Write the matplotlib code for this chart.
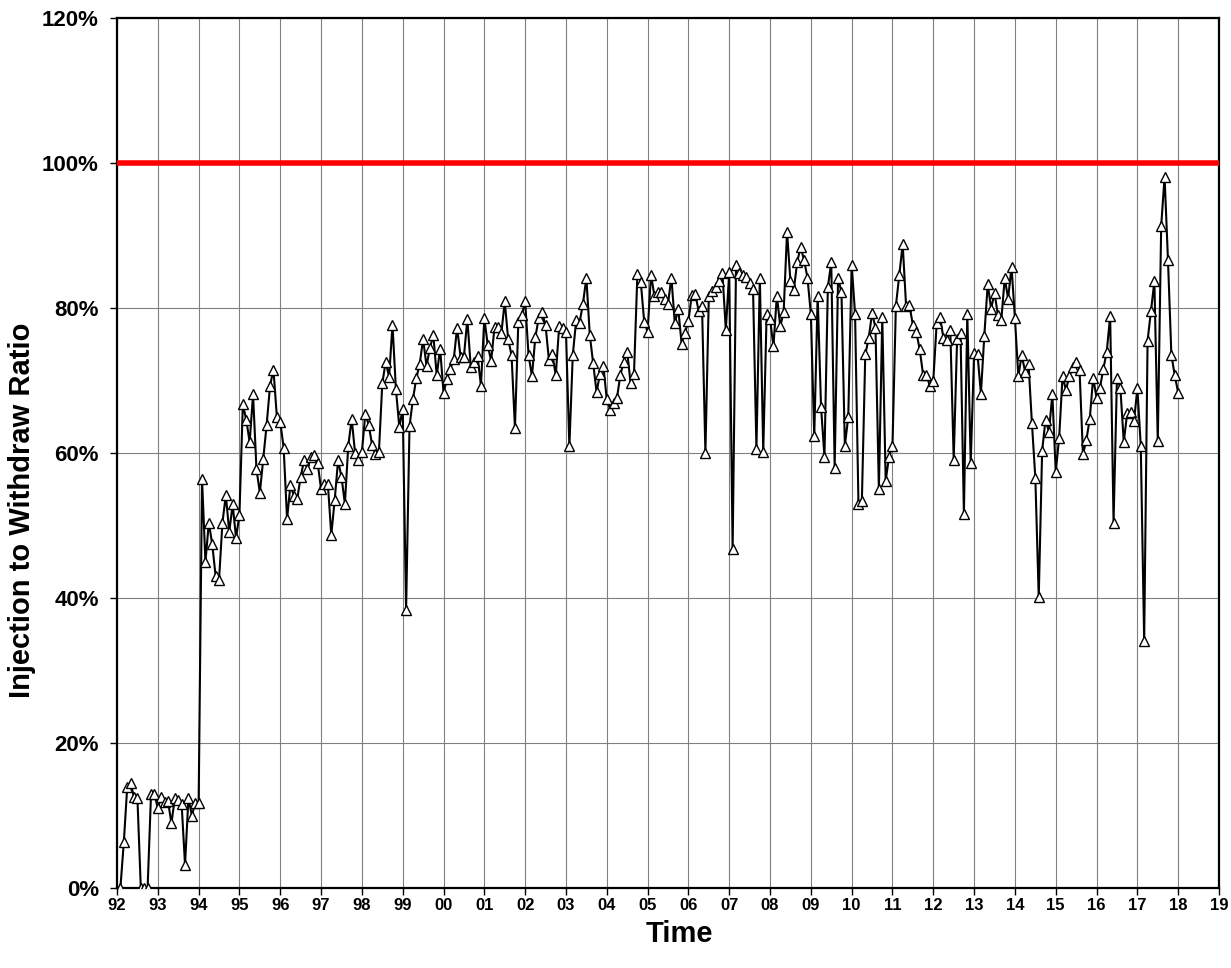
import numpy as np
import matplotlib.pyplot as plt

# Monthly injection / withdraw ratio (%), Jan 1992 - Dec 2017
start_year = 1992
ratio = [
    # 92
    0.0, 6.3, 13.9, 14.5, 12.5, 12.4, 0.0, 0.0, 0.0, 12.9, 13.0, 11.0,
    # 93
    12.6, 11.9, 12.0, 8.9, 12.4, 12.2, 11.6, 3.2, 12.4, 10.0, 11.7, 11.7,
    # 94
    56.4, 45.0, 50.4, 47.4, 43.0, 42.5, 50.4, 54.2, 49.1, 52.9, 48.3, 51.5,
    # 95
    66.7, 64.6, 61.5, 68.1, 57.8, 54.5, 59.2, 63.9, 69.3, 71.5, 65.0, 64.3,
    # 96
    60.7, 50.9, 55.6, 54.1, 53.7, 56.7, 59.0, 57.8, 59.4, 59.7, 58.6, 55.0,
    # 97
    55.7, 55.7, 48.7, 53.5, 59.0, 56.7, 53.0, 61.0, 64.7, 60.0, 59.0, 60.1,
    # 98
    65.4, 63.9, 61.1, 59.8, 60.1, 69.6, 72.6, 70.5, 77.7, 68.8, 63.6, 66.1,
    # 99
    38.4, 63.7, 67.4, 70.3, 72.3, 75.7, 72.0, 74.5, 76.3, 70.7, 74.4, 68.3,
    # 00
    70.2, 71.6, 72.9, 77.3, 73.3, 73.3, 78.5, 71.9, 72.6, 73.4, 69.3, 78.6,
    # 01
    74.9, 72.7, 77.4, 77.4, 76.5, 80.9, 75.7, 73.5, 63.5, 78.1, 79.0, 80.9,
    # 02
    73.5, 70.6, 76.0, 78.6, 79.4, 77.6, 72.8, 73.6, 70.7, 77.5, 77.3, 76.7,
    # 03
    60.9, 73.5, 78.3, 78.0, 80.6, 84.2, 76.3, 72.4, 68.4, 70.9, 72.0, 67.4,
    # 04
    66.0, 66.9, 67.6, 70.8, 72.6, 74.0, 69.6, 70.9, 84.7, 83.6, 78.1, 76.7,
    # 05
    84.6, 81.7, 82.2, 82.2, 81.2, 80.6, 84.2, 77.9, 79.9, 75.1, 76.6, 78.2,
    # 06
    81.8, 82.0, 79.6, 80.3, 60.0, 81.6, 82.3, 82.9, 83.7, 84.8, 77.0, 84.9,
    # 07
    46.7, 86.0, 84.8, 84.6, 84.3, 83.5, 82.6, 60.6, 84.2, 60.2, 79.2, 78.5,
    # 08
    74.7, 81.7, 77.5, 79.4, 90.5, 83.7, 82.5, 86.4, 88.4, 86.6, 84.2, 79.2,
    # 09
    62.3, 81.7, 66.3, 59.5, 82.9, 86.3, 58.0, 84.1, 82.2, 61.0, 65.0, 86.0,
    # 10
    79.2, 52.9, 53.4, 73.6, 75.8, 79.3, 77.3, 55.0, 78.7, 56.2, 59.5, 61.0,
    # 11
    80.3, 84.6, 88.8, 80.3, 80.4, 77.6, 76.7, 74.3, 70.8, 70.8, 69.2, 70.0,
    # 12
    77.9, 78.7, 75.8, 75.6, 77.0, 59.1, 75.7, 76.6, 51.6, 79.2, 58.6, 73.8,
    # 13
    73.6, 68.2, 76.2, 83.3, 79.9, 82.1, 79.0, 78.4, 84.1, 81.3, 85.7, 78.6,
    # 14
    70.6, 73.5, 71.2, 72.3, 64.1, 56.6, 40.1, 60.3, 64.6, 62.9, 68.1, 57.4,
    # 15
    62.1, 70.6, 68.7, 70.6, 71.9, 72.6, 71.4, 59.8, 61.8, 64.7, 70.4, 67.6,
    # 16
    69.0, 71.6, 74.0, 78.9, 50.4, 70.4, 69.0, 61.5, 65.5, 65.7, 64.4, 68.9,
    # 17
    61.0, 34.1, 75.5, 79.6, 83.7, 61.6, 91.3, 98.1, 86.6, 73.5, 70.7, 68.3,
]
target = 100.0

years = np.arange(1992, 2020)
y_ticks = [0, 20, 40, 60, 80, 100, 120]

# month m of year Y sits at Y + m/12
t = start_year + (np.arange(len(ratio)) + 1) / 12.0

plt.rcParams["font.family"] = ["Liberation Sans", "DejaVu Sans"]
plt.rcParams["font.weight"] = "bold"

fig = plt.figure(figsize=(12.31, 9.68), dpi=100)
ax = fig.add_axes([117 / 1231, 1 - 888 / 968, 1102 / 1231, 870 / 968])

ax.axhline(target, color="#ff0000", linewidth=4, zorder=3)
ax.plot(t, ratio, color="black", linewidth=1.5, marker="^", markersize=7,
        markerfacecolor="white", markeredgecolor="black", markeredgewidth=1.0,
        zorder=4)

ax.set_xlim(1992, 2019)
ax.set_ylim(0, 120)
ax.set_xticks(years)
ax.set_xticklabels([f"{y % 100:02d}" for y in years], fontsize=12, fontweight="bold")
ax.set_yticks(y_ticks)
ax.set_yticklabels([f"{v}%" for v in y_ticks], fontsize=16, fontweight="bold")
ax.tick_params(axis="both", direction="out", length=5, width=1, color="black")
ax.tick_params(axis="y", pad=8)
ax.tick_params(axis="x", pad=2)

ax.grid(True, color="#808080", linewidth=0.8)
ax.set_axisbelow(True)
for s in ax.spines.values():
    s.set_linewidth(1.6)
    s.set_color("black")

fig.text(22 / 1231, 1 - 510 / 968, "Injection to Withdraw Ratio", rotation=90,
         ha="center", va="center", fontsize=21, fontweight="bold")
fig.text(679 / 1231, 1 - 934 / 968, "Time", ha="center", va="center",
         fontsize=21, fontweight="bold")

fig.savefig("out.png", dpi=100)
